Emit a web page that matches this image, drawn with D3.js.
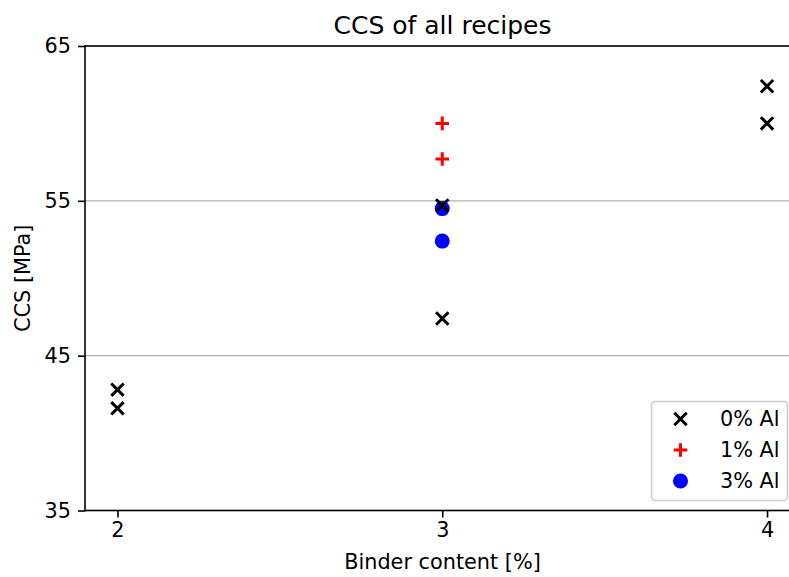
<!DOCTYPE html>
<html>
<head>
<meta charset="utf-8">
<script src="https://cdn.jsdelivr.net/npm/d3@7"></script>
<style>
  html, body { margin: 0; padding: 0; background: #fff; }
  svg { display: block; font-family: "DejaVu Sans", sans-serif; }
</style>
</head>
<body>
<svg id="chart" width="789" height="577"></svg>
<script>
// Compressive strength measurements per binder content and aluminium dosage
const series = ["0% Al", "1% Al", "3% Al"];
const binder0 = [2, 2, 3, 3, 4, 4];
const ccs0 = [42.8, 41.6, 54.7, 47.4, 62.4, 60.0];
const binder1 = [3, 3];
const ccs1 = [60.0, 57.7];
const binder3 = [3, 3];
const ccs3 = [54.5, 52.4];
const xTicks = [2, 3, 4];
const yTicks = [35, 45, 55, 65];

const svg = d3.select("#chart");
const plotLeft = 85, plotTop = 46, plotBottom = 510.5, plotRight = 799.5;
const labelSize = 20.8, titleSize = 25;

const x = d3.scaleLinear().domain([1.9, 4.1]).range([plotLeft, plotRight]);
const y = d3.scaleLinear().domain([35, 65]).range([plotBottom, plotTop]);

// horizontal grid
svg.append("g")
  .selectAll("line")
  .data(yTicks)
  .join("line")
  .attr("x1", plotLeft).attr("x2", plotRight)
  .attr("y1", d => y(d)).attr("y2", d => y(d))
  .attr("stroke", "#b0b0b0").attr("stroke-width", 1.4);

// axes
const xAxis = svg.append("g")
  .attr("transform", `translate(0,${plotBottom})`)
  .call(d3.axisBottom(x).tickValues(xTicks).tickFormat(d3.format("d")).tickSize(7).tickPadding(5));
const yAxis = svg.append("g")
  .attr("transform", `translate(${plotLeft},0)`)
  .call(d3.axisLeft(y).tickValues(yTicks).tickFormat(d3.format("d")).tickSize(7).tickPadding(7));
[xAxis, yAxis].forEach(g => {
  g.attr("font-size", null).attr("font-family", null);
  g.selectAll("text").attr("font-size", labelSize).attr("fill", "#000")
    .attr("font-family", "DejaVu Sans, sans-serif");
  g.selectAll("line").attr("stroke", "#000").attr("stroke-width", 1.6);
  g.select(".domain").remove();
});
// spines
const spine = (x1, y1, x2, y2) => svg.append("line")
  .attr("x1", x1).attr("y1", y1).attr("x2", x2).attr("y2", y2)
  .attr("stroke", "#000").attr("stroke-width", 1.6).attr("stroke-linecap", "square");
spine(plotLeft, plotTop, plotRight, plotTop);
spine(plotLeft, plotBottom, plotRight, plotBottom);
spine(plotLeft, plotTop, plotLeft, plotBottom);

// marker shapes
const s = 6.2;
const crossPath = `M${-s},${-s}L${s},${s}M${-s},${s}L${s},${-s}`;
const plusPath = `M${-s - 0.6},0L${s + 0.6},0M0,${-s - 0.6}L0,${s + 0.6}`;

const pts0 = binder0.map((b, i) => [b, ccs0[i]]);
const pts1 = binder1.map((b, i) => [b, ccs1[i]]);
const pts3 = binder3.map((b, i) => [b, ccs3[i]]);

svg.append("g").selectAll("circle").data(pts3).join("circle")
  .attr("cx", d => x(d[0])).attr("cy", d => y(d[1])).attr("r", 7.5)
  .attr("fill", "#0000ff");

svg.append("g").selectAll("path").data(pts1).join("path")
  .attr("d", plusPath)
  .attr("transform", d => `translate(${x(d[0])},${y(d[1])})`)
  .attr("stroke", "#ff0000").attr("stroke-width", 3).attr("fill", "none");

svg.append("g").selectAll("path").data(pts0).join("path")
  .attr("d", crossPath)
  .attr("transform", d => `translate(${x(d[0])},${y(d[1])})`)
  .attr("stroke", "#000").attr("stroke-width", 3).attr("fill", "none");

// title and axis labels
svg.append("text").attr("x", 442.5).attr("y", 34)
  .attr("text-anchor", "middle").attr("font-size", titleSize).text("CCS of all recipes");
svg.append("text").attr("x", 442.5).attr("y", 569)
  .attr("text-anchor", "middle").attr("font-size", labelSize).text("Binder content [%]");
svg.append("text").attr("transform", `translate(29.5,${(plotTop + plotBottom) / 2}) rotate(-90)`)
  .attr("text-anchor", "middle").attr("font-size", labelSize).text("CCS [MPa]");

// legend
const lg = svg.append("g").attr("transform", "translate(651,401)");
lg.append("rect").attr("x", 0.5).attr("y", 0.5).attr("width", 136).attr("height", 99).attr("rx", 4)
  .attr("fill", "#fff").attr("fill-opacity", 0.8)
  .attr("stroke", "#cccccc").attr("stroke-width", 1.6);
series.forEach((name, i) => {
  const cy = 18 + i * 31;
  const g = lg.append("g").attr("transform", `translate(29.5,${cy})`);
  if (i === 0) g.append("path").attr("d", crossPath).attr("stroke", "#000").attr("stroke-width", 3).attr("fill", "none");
  if (i === 1) g.append("path").attr("d", plusPath).attr("stroke", "#ff0000").attr("stroke-width", 3).attr("fill", "none");
  if (i === 2) g.append("circle").attr("r", 7.5).attr("fill", "#0000ff");
  lg.append("text").attr("x", 69).attr("y", cy + 7).attr("font-size", labelSize).text(name);
});
</script>
</body>
</html>
